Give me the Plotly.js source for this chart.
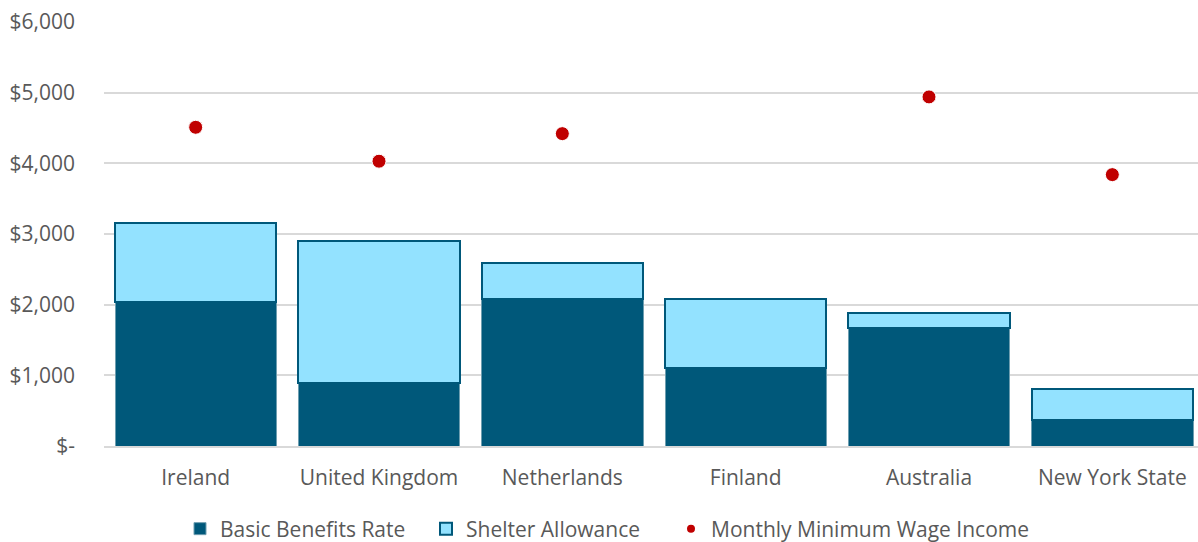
<!DOCTYPE html>
<html>
<head>
<meta charset="utf-8">
<script src="https://cdn.plot.ly/plotly-3.0.1.min.js"></script>
<style>
html,body{margin:0;padding:0;overflow:hidden;background:#fff;}
#chart{width:1206px;height:542px;}
</style>
</head>
<body>
<div id="chart"></div>
<script>
const countries = ["Ireland", "United Kingdom", "Netherlands", "Finland", "Australia", "New York State"];
const basicBenefits = [2040, 890, 2075, 1105, 1665, 365];
const shelterAllowance = [1120, 2010, 515, 975, 215, 445];
const minWageIncome = [4510, 4030, 4420, null, 4940, 3840];
const yTickVals = [0, 1000, 2000, 3000, 4000, 5000, 6000];
const yTickText = ["$-", "$1,000", "$2,000", "$3,000", "$4,000", "$5,000", "$6,000"];

const font = "'Open Sans', sans-serif";
const W = 1206, H = 542;
const wageName = "Monthly Minimum Wage Income";
const data = [
  {
    type: "bar", name: "Basic Benefits Rate", x: countries, y: basicBenefits, legend: "legend",
    marker: {color: "#00587A", line: {color: "#6E9EB0", width: 1}}
  },
  {
    type: "bar", name: "Shelter Allowance", x: countries, y: shelterAllowance, legend: "legend2",
    marker: {color: "#93E2FF", line: {color: "#00587A", width: 2}}
  },
  {
    type: "scatter", mode: "markers", name: wageName, showlegend: false,
    x: countries, y: minWageIncome,
    marker: {color: "#C00000", size: 14, line: {color: "#ffffff", width: 1}}
  },
  {
    // legend entry only (smaller symbol, as in the reference legend)
    type: "scatter", mode: "markers", name: wageName, legend: "legend3",
    x: [null], y: [null],
    marker: {color: "#C00000", size: 8}
  }
];
function leg(left) {
  return {
    orientation: "h", x: left / W, xanchor: "left", xref: "container",
    y: 13 / H, yanchor: "middle", yref: "container",
    font: {size: 21, color: "#595959"}, itemwidth: 30, bgcolor: "rgba(0,0,0,0)"
  };
}
const layout = {
  width: W, height: H,
  margin: {l: 104, r: 2, t: 22, b: 96},
  barmode: "stack", bargap: 0.12,
  paper_bgcolor: "#fff", plot_bgcolor: "#fff",
  font: {family: font, size: 21, color: "#595959"},
  xaxis: {
    showgrid: false, zeroline: false, showline: true, linecolor: "#d9d9d9", linewidth: 2,
    ticks: "", ticklabelstandoff: 12, tickfont: {size: 21, color: "#595959"}, automargin: false
  },
  yaxis: {
    range: [0, 6000], tickvals: yTickVals, ticktext: yTickText,
    showgrid: true, gridcolor: "#d9d9d9", gridwidth: 2, zeroline: false, showline: false,
    ticks: "", ticklabelstandoff: 28, tickfont: {size: 21, color: "#595959"}, automargin: false
  },
  showlegend: true,
  legend: leg(180),
  legend2: leg(426),
  legend3: leg(671)
};
Plotly.newPlot("chart", data, layout, {displayModeBar: false, staticPlot: true});
</script>
</body>
</html>
